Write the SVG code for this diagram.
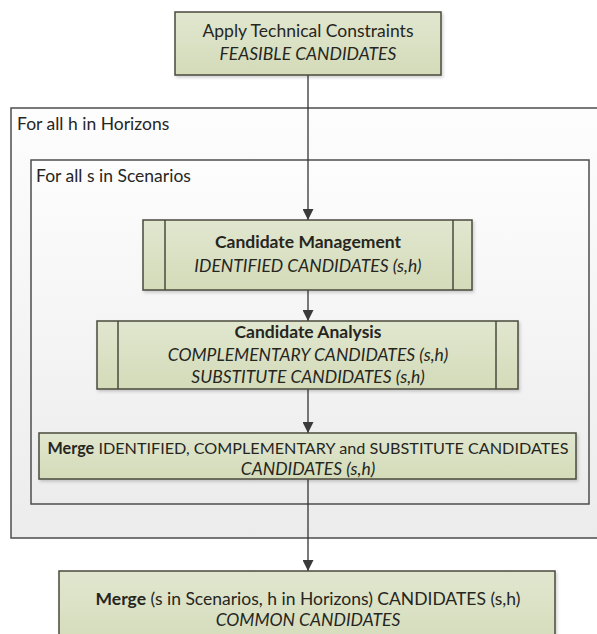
<svg xmlns="http://www.w3.org/2000/svg" width="597" height="634" viewBox="0 0 597 634">
  <defs>
    <linearGradient id="gGreen" x1="0" y1="0" x2="0" y2="1">
      <stop offset="0" stop-color="#e1e7cf"/>
      <stop offset="1" stop-color="#d3dbb9"/>
    </linearGradient>
    <linearGradient id="gFrame" x1="0" y1="0" x2="0" y2="1">
      <stop offset="0" stop-color="#fdfdfd"/>
      <stop offset="1" stop-color="#ececec"/>
    </linearGradient>
    <filter id="shadow" x="-5%" y="-10%" width="110%" height="130%">
      <feDropShadow dx="1.5" dy="2" stdDeviation="1.5" flood-color="#000" flood-opacity="0.18"/>
    </filter>
    <marker id="arrow" viewBox="0 0 10 10" refX="10" refY="5" markerWidth="11" markerHeight="11" markerUnits="userSpaceOnUse" orient="auto">
      <path d="M0,0 L10,5 L0,10 Z" fill="#3a3a3a"/>
    </marker>
  </defs>
  <style>
    text { font-family: Lato, "Open Sans", "Liberation Sans", sans-serif; font-size: 17.5px; fill: #26261f; }
    .c { text-anchor: middle; }
    .b { font-weight: bold; }
    .i { font-style: italic; }
    .tight { font-size: 16.2px; }
    .frame { fill: url(#gFrame); stroke: #4d4d4d; stroke-width: 1.5; }
    .step { fill: url(#gGreen); stroke: #4a4a3c; stroke-width: 1.5; filter: url(#shadow); }
    .bar { stroke: #4a4a3c; stroke-width: 1.5; }
    .wire { stroke: #333; stroke-width: 1.3; fill: none; marker-end: url(#arrow); }
  </style>

  <rect width="597" height="634" fill="#ffffff"/>

  <!-- loop frames -->
  <g id="horizons">
    <rect class="frame" x="11" y="108" width="592" height="430"/>
    <text x="17" y="130">For all h in Horizons</text>
  </g>
  <g id="scenarios">
    <rect class="frame" x="31" y="160" width="558" height="344"/>
    <text x="36" y="182">For all s in Scenarios</text>
  </g>

  <!-- connectors -->
  <g id="connectors">
    <line class="wire" x1="308" y1="75" x2="308" y2="220"/>
    <line class="wire" x1="308" y1="290" x2="308" y2="321"/>
    <line class="wire" x1="308" y1="389" x2="308" y2="433"/>
    <line class="wire" x1="308" y1="479" x2="308" y2="571"/>
  </g>

  <g id="constraints">
    <rect class="step" x="175" y="12" width="266" height="63"/>
    <text class="c" x="308" y="37">Apply Technical Constraints</text>
    <text class="c i" x="308" y="60">FEASIBLE CANDIDATES</text>
  </g>

  <g id="management">
    <rect class="step" x="143" y="220" width="329" height="70"/>
    <line class="bar" x1="165" y1="220" x2="165" y2="290"/>
    <line class="bar" x1="453" y1="220" x2="453" y2="290"/>
    <text class="c b" x="308" y="248">Candidate Management</text>
    <text class="c i" x="308" y="272">IDENTIFIED CANDIDATES (s,h)</text>
  </g>

  <g id="analysis">
    <rect class="step" x="97" y="321" width="421" height="68"/>
    <line class="bar" x1="118" y1="321" x2="118" y2="389"/>
    <line class="bar" x1="496" y1="321" x2="496" y2="389"/>
    <text class="c b" x="308" y="338">Candidate Analysis</text>
    <text class="c i" x="308" y="361">COMPLEMENTARY CANDIDATES (s,h)</text>
    <text class="c i" x="308" y="383">SUBSTITUTE CANDIDATES (s,h)</text>
  </g>

  <g id="merge-sh">
    <rect class="step" x="39" y="433" width="537" height="46"/>
    <text class="c tight" x="308" y="454"><tspan class="b">Merge</tspan> IDENTIFIED, COMPLEMENTARY and SUBSTITUTE CANDIDATES</text>
    <text class="c i" x="308" y="475">CANDIDATES (s,h)</text>
  </g>

  <g id="merge-common">
    <rect class="step" x="59" y="571" width="496" height="80"/>
    <text class="c" x="308" y="605"><tspan class="b">Merge</tspan> (s in Scenarios, h in Horizons) CANDIDATES (s,h)</text>
    <text class="c i" x="308" y="626">COMMON CANDIDATES</text>
  </g>
</svg>
